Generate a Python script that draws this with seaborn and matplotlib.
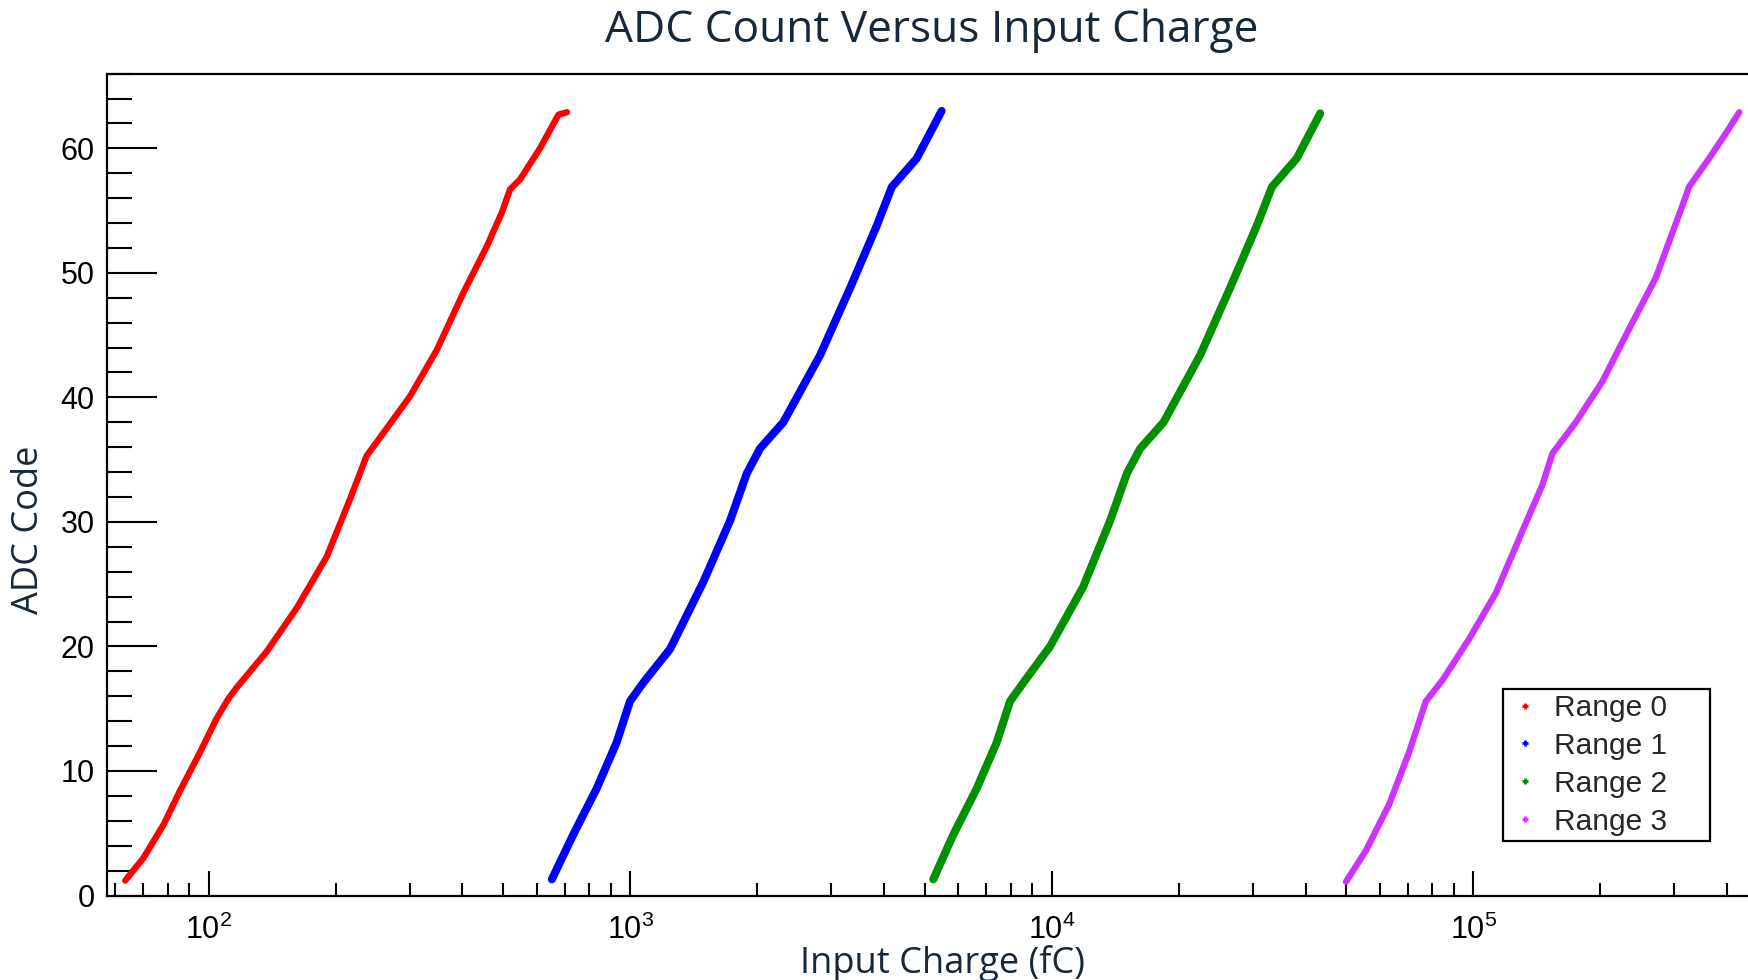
import matplotlib
matplotlib.use('Agg')
import matplotlib.pyplot as plt
import seaborn as sns
import pandas as pd
from matplotlib.lines import Line2D
from matplotlib.ticker import LogLocator, NullFormatter, MultipleLocator

# ADC code vs input charge (fC) for each range
range0_charge = [63.4, 70, 78.2, 85.5, 95.4, 104.4, 111.4, 116.6, 137.4, 161.9, 190.6, 216.3,
                 237, 250.4, 300.6, 347.7, 402, 456.6, 495.6, 518.8, 548, 611, 676, 708]
range0_code = [1.2, 3, 5.7, 8.4, 11.5, 14.2, 15.8, 16.7, 19.6, 23.1, 27.2, 31.8,
               35.3, 36.4, 40.1, 43.8, 48.4, 52.1, 54.8, 56.7, 57.5, 60, 62.7, 62.9]

range1_charge = [652, 733, 833, 929, 999, 1075, 1244, 1492, 1726, 1891, 2033, 2308,
                 2823, 3326, 3847, 4176, 4786, 5480]
range1_code = [1.3, 4.9, 8.6, 12.3, 15.6, 17.1, 19.8, 25.2, 30.1, 33.9, 35.9, 38,
               43.4, 48.8, 53.8, 56.9, 59.2, 63]

range2_charge = [5236, 5845, 6640, 7405, 7966, 8570, 9908, 11880, 13760, 15080, 16220, 18420,
                 22500, 26500, 30670, 33290, 38140, 43340]
range2_code = [1.3, 4.9, 8.6, 12.3, 15.6, 17.1, 20, 24.8, 30.1, 33.9, 35.9, 38,
               43.4, 48.8, 53.8, 56.9, 59.2, 62.8]

range3_charge = [49890, 55640, 63120, 70430, 77200, 84560, 97760, 113200, 130900, 146000,
                 154100, 175100, 202600, 234300, 271000, 313500, 325000, 362800, 397400, 427700]
range3_code = [1.1, 3.6, 7.3, 11.5, 15.6, 17.3, 20.6, 24.3, 29.3, 33, 35.5, 38, 41.3,
               45.5, 49.6, 55.4, 56.9, 59.2, 61.2, 62.9]

range_labels = ['Range 0', 'Range 1', 'Range 2', 'Range 3']
range_colors = ['#ff0000', '#0000ff', '#009000', '#cc33ff']

df = pd.concat([
    pd.DataFrame({'charge': q, 'code': c, 'range': lab})
    for q, c, lab in zip([range0_charge, range1_charge, range2_charge, range3_charge],
                         [range0_code, range1_code, range2_code, range3_code],
                         range_labels)
], ignore_index=True)

sns.set_theme(style='ticks')
plt.rcParams['font.family'] = ['Liberation Sans', 'DejaVu Sans']

navy = '#17283a'
fig = plt.figure(figsize=(17.49, 9.8), dpi=100)
ax = fig.add_axes([107 / 1749, 84.5 / 980, 1662 / 1749, 821.9 / 980])

widths = [4.6, 5.8, 5.8, 4.6]
for lab, col, lw in zip(range_labels, range_colors, widths):
    sns.lineplot(data=df[df['range'] == lab], x='charge', y='code', color=col, lw=lw,
                 sort=False, estimator=None, legend=False, ax=ax)

ax.set_xscale('log')
ax.set_xlim(57.4, 5.03e5)
ax.set_ylim(0, 66)

ax.yaxis.set_major_locator(MultipleLocator(10))
ax.yaxis.set_minor_locator(MultipleLocator(2))
ax.xaxis.set_major_locator(LogLocator(base=10))
ax.xaxis.set_minor_locator(LogLocator(base=10, subs=range(2, 10)))
ax.xaxis.set_minor_formatter(NullFormatter())

ax.tick_params(axis='both', which='both', direction='in', width=1.5, colors='black',
               labelsize=22, top=False, right=False)
ax.tick_params(axis='y', which='major', length=36, pad=9)
ax.tick_params(axis='y', which='minor', length=18)
ax.tick_params(axis='x', which='major', length=18, pad=14)
ax.tick_params(axis='x', which='minor', length=9.5)

for s in ax.spines.values():
    s.set_linewidth(1.6)
    s.set_color('black')

ax.set_title('ADC Count Versus Input Charge', fontsize=31.9, color=navy,
             fontfamily='Open Sans', x=0.496, y=1.0385, pad=0)
ax.set_xlabel('Input Charge (fC)', fontsize=26, color=navy, fontfamily='Open Sans')
ax.set_ylabel('ADC Code', fontsize=26, color=navy, fontfamily='Open Sans')
ax.xaxis.set_label_coords(0.503, -0.0605)
ax.yaxis.set_label_coords(-0.036, 0.445)

handles = [Line2D([], [], ls='none', marker='+', markersize=5, mew=2, color=c)
           for c in range_colors]
leg = ax.legend(handles, range_labels, loc='upper left',
                bbox_to_anchor=(0.840, 0.0627, 0.1245, 0.1886), mode='expand',
                fontsize=21.5, frameon=True, fancybox=False, framealpha=1,
                edgecolor='black', borderpad=0.17, labelspacing=0.33,
                handlelength=1.1, handletextpad=0.45, borderaxespad=0)
leg.get_frame().set_linewidth(1.6)

fig.savefig('out.png', dpi=100, facecolor='white')
